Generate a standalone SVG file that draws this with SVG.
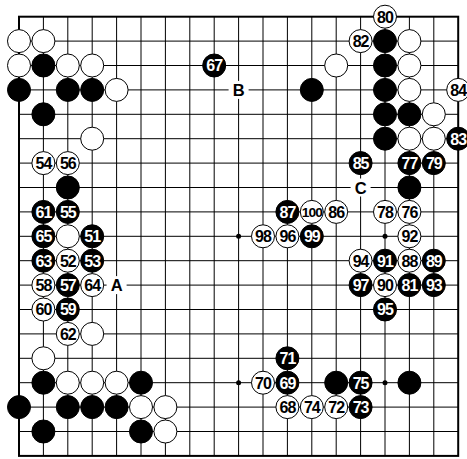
<svg xmlns="http://www.w3.org/2000/svg" width="467" height="459" viewBox="0 0 467 459">
<style>
.grid{stroke:#000;stroke-width:1;fill:none}
.border{stroke:#000;stroke-width:2;fill:none}
.b{fill:#000;stroke:#000;stroke-width:1}
.w{fill:#fff;stroke:#000;stroke-width:1}
.n{font-family:"Liberation Sans",Arial,sans-serif;font-weight:bold;font-size:16px;text-anchor:middle;letter-spacing:-1px}
.nb{fill:#fff}
.nw{fill:#000}
.s{font-size:13.5px;letter-spacing:-1px}
.lbl{font-family:"Liberation Sans",Arial,sans-serif;font-weight:bold;font-size:16.5px;text-anchor:middle;fill:#000}
</style>
<defs>
<circle id="B" class="b" r="11.5"/>
<circle id="W" class="w" r="11.5"/>
</defs>
<rect width="467" height="459" fill="#fff"/>
<g id="connectors">
<path class="grid" d="M43.4 16.7V455.9M67.8 16.7V455.9M92.2 16.7V455.9M116.6 16.7V455.9M141 16.7V455.9M165.4 16.7V455.9M189.8 16.7V455.9M214.2 16.7V455.9M238.6 16.7V455.9M263 16.7V455.9M287.4 16.7V455.9M311.8 16.7V455.9M336.2 16.7V455.9M360.6 16.7V455.9M385 16.7V455.9M409.4 16.7V455.9M433.8 16.7V455.9M19 41.1H458.2M19 65.5H458.2M19 89.9H458.2M19 114.3H458.2M19 138.7H458.2M19 163.1H458.2M19 187.5H458.2M19 211.9H458.2M19 236.3H458.2M19 260.7H458.2M19 285.1H458.2M19 309.5H458.2M19 333.9H458.2M19 358.3H458.2M19 382.7H458.2M19 407.1H458.2M19 431.5H458.2"/>
<rect class="border" x="19" y="16.7" width="439.2" height="439.2"/>
<circle cx="238.6" cy="236.3" r="2.5"/>
<circle cx="385" cy="236.3" r="2.5"/>
<circle cx="238.6" cy="382.7" r="2.5"/>
<circle cx="385" cy="382.7" r="2.5"/>
</g>
<g id="stones-plain">
<use href="#W" x="19" y="41.1"/><use href="#W" x="43.4" y="41.1"/><use href="#W" x="19" y="65.5"/><use href="#W" x="67.8" y="65.5"/><use href="#W" x="92.2" y="65.5"/><use href="#W" x="116.6" y="89.9"/><use href="#W" x="92.2" y="138.7"/><use href="#W" x="67.8" y="236.3"/><use href="#W" x="92.2" y="333.9"/><use href="#W" x="43.4" y="358.3"/><use href="#W" x="67.8" y="382.7"/><use href="#W" x="92.2" y="382.7"/><use href="#W" x="116.6" y="382.7"/><use href="#W" x="141" y="407.1"/><use href="#W" x="165.4" y="407.1"/><use href="#W" x="165.4" y="431.5"/><use href="#W" x="336.2" y="65.5"/><use href="#W" x="409.4" y="41.1"/><use href="#W" x="409.4" y="65.5"/><use href="#W" x="409.4" y="89.9"/><use href="#W" x="433.8" y="114.3"/><use href="#W" x="409.4" y="138.7"/><use href="#W" x="433.8" y="138.7"/>
<use href="#B" x="43.4" y="65.5"/><use href="#B" x="19" y="89.9"/><use href="#B" x="67.8" y="89.9"/><use href="#B" x="92.2" y="89.9"/><use href="#B" x="43.4" y="114.3"/><use href="#B" x="67.8" y="187.5"/><use href="#B" x="43.4" y="382.7"/><use href="#B" x="141" y="382.7"/><use href="#B" x="19" y="407.1"/><use href="#B" x="67.8" y="407.1"/><use href="#B" x="92.2" y="407.1"/><use href="#B" x="116.6" y="407.1"/><use href="#B" x="43.4" y="431.5"/><use href="#B" x="141" y="431.5"/><use href="#B" x="311.8" y="89.9"/><use href="#B" x="385" y="41.1"/><use href="#B" x="385" y="65.5"/><use href="#B" x="385" y="89.9"/><use href="#B" x="385" y="114.3"/><use href="#B" x="409.4" y="114.3"/><use href="#B" x="385" y="138.7"/><use href="#B" x="409.4" y="187.5"/><use href="#B" x="336.2" y="382.7"/><use href="#B" x="409.4" y="382.7"/>
</g>
<g id="m51" transform="translate(92.2,236.3)"><use href="#B"/><text class="n nb" y="5.8">51</text></g>
<g id="m52" transform="translate(67.8,260.7)"><use href="#W"/><text class="n nw" y="5.8">52</text></g>
<g id="m53" transform="translate(92.2,260.7)"><use href="#B"/><text class="n nb" y="5.8">53</text></g>
<g id="m54" transform="translate(43.4,163.1)"><use href="#W"/><text class="n nw" y="5.8">54</text></g>
<g id="m55" transform="translate(67.8,211.9)"><use href="#B"/><text class="n nb" y="5.8">55</text></g>
<g id="m56" transform="translate(67.8,163.1)"><use href="#W"/><text class="n nw" y="5.8">56</text></g>
<g id="m57" transform="translate(67.8,285.1)"><use href="#B"/><text class="n nb" y="5.8">57</text></g>
<g id="m58" transform="translate(43.4,285.1)"><use href="#W"/><text class="n nw" y="5.8">58</text></g>
<g id="m59" transform="translate(67.8,309.5)"><use href="#B"/><text class="n nb" y="5.8">59</text></g>
<g id="m60" transform="translate(43.4,309.5)"><use href="#W"/><text class="n nw" y="5.8">60</text></g>
<g id="m61" transform="translate(43.4,211.9)"><use href="#B"/><text class="n nb" y="5.8">61</text></g>
<g id="m62" transform="translate(67.8,333.9)"><use href="#W"/><text class="n nw" y="5.8">62</text></g>
<g id="m63" transform="translate(43.4,260.7)"><use href="#B"/><text class="n nb" y="5.8">63</text></g>
<g id="m64" transform="translate(92.2,285.1)"><use href="#W"/><text class="n nw" y="5.8">64</text></g>
<g id="m65" transform="translate(43.4,236.3)"><use href="#B"/><text class="n nb" y="5.8">65</text></g>
<g id="m67" transform="translate(214.2,65.5)"><use href="#B"/><text class="n nb" y="5.8">67</text></g>
<g id="m68" transform="translate(287.4,407.1)"><use href="#W"/><text class="n nw" y="5.8">68</text></g>
<g id="m69" transform="translate(287.4,382.7)"><use href="#B"/><text class="n nb" y="5.8">69</text></g>
<g id="m70" transform="translate(263,382.7)"><use href="#W"/><text class="n nw" y="5.8">70</text></g>
<g id="m71" transform="translate(287.4,358.3)"><use href="#B"/><text class="n nb" y="5.8">71</text></g>
<g id="m72" transform="translate(336.2,407.1)"><use href="#W"/><text class="n nw" y="5.8">72</text></g>
<g id="m73" transform="translate(360.6,407.1)"><use href="#B"/><text class="n nb" y="5.8">73</text></g>
<g id="m74" transform="translate(311.8,407.1)"><use href="#W"/><text class="n nw" y="5.8">74</text></g>
<g id="m75" transform="translate(360.6,382.7)"><use href="#B"/><text class="n nb" y="5.8">75</text></g>
<g id="m76" transform="translate(409.4,211.9)"><use href="#W"/><text class="n nw" y="5.8">76</text></g>
<g id="m77" transform="translate(409.4,163.1)"><use href="#B"/><text class="n nb" y="5.8">77</text></g>
<g id="m78" transform="translate(385,211.9)"><use href="#W"/><text class="n nw" y="5.8">78</text></g>
<g id="m79" transform="translate(433.8,163.1)"><use href="#B"/><text class="n nb" y="5.8">79</text></g>
<g id="m80" transform="translate(385,16.7)"><use href="#W"/><text class="n nw" y="5.8">80</text></g>
<g id="m81" transform="translate(409.4,285.1)"><use href="#B"/><text class="n nb" y="5.8">81</text></g>
<g id="m82" transform="translate(360.6,41.1)"><use href="#W"/><text class="n nw" y="5.8">82</text></g>
<g id="m83" transform="translate(458.2,138.7)"><use href="#B"/><text class="n nb" y="5.8">83</text></g>
<g id="m84" transform="translate(458.2,89.9)"><use href="#W"/><text class="n nw" y="5.8">84</text></g>
<g id="m85" transform="translate(360.6,163.1)"><use href="#B"/><text class="n nb" y="5.8">85</text></g>
<g id="m86" transform="translate(336.2,211.9)"><use href="#W"/><text class="n nw" y="5.8">86</text></g>
<g id="m87" transform="translate(287.4,211.9)"><use href="#B"/><text class="n nb" y="5.8">87</text></g>
<g id="m88" transform="translate(409.4,260.7)"><use href="#W"/><text class="n nw" y="5.8">88</text></g>
<g id="m89" transform="translate(433.8,260.7)"><use href="#B"/><text class="n nb" y="5.8">89</text></g>
<g id="m90" transform="translate(385,285.1)"><use href="#W"/><text class="n nw" y="5.8">90</text></g>
<g id="m91" transform="translate(385,260.7)"><use href="#B"/><text class="n nb" y="5.8">91</text></g>
<g id="m92" transform="translate(409.4,236.3)"><use href="#W"/><text class="n nw" y="5.8">92</text></g>
<g id="m93" transform="translate(433.8,285.1)"><use href="#B"/><text class="n nb" y="5.8">93</text></g>
<g id="m94" transform="translate(360.6,260.7)"><use href="#W"/><text class="n nw" y="5.8">94</text></g>
<g id="m95" transform="translate(385,309.5)"><use href="#B"/><text class="n nb" y="5.8">95</text></g>
<g id="m96" transform="translate(287.4,236.3)"><use href="#W"/><text class="n nw" y="5.8">96</text></g>
<g id="m97" transform="translate(360.6,285.1)"><use href="#B"/><text class="n nb" y="5.8">97</text></g>
<g id="m98" transform="translate(263,236.3)"><use href="#W"/><text class="n nw" y="5.8">98</text></g>
<g id="m99" transform="translate(311.8,236.3)"><use href="#B"/><text class="n nb" y="5.8">99</text></g>
<g id="m100" transform="translate(311.8,211.9)"><use href="#W"/><text class="n nw s" y="5" textLength="20" lengthAdjust="spacingAndGlyphs">100</text></g>
<g id="lblA" transform="translate(116.6,285.1)"><rect x="-10" y="-9" width="20" height="18" fill="#fff"/><text class="lbl" y="6">A</text></g>
<g id="lblB" transform="translate(238.6,89.9)"><rect x="-10" y="-9" width="20" height="18" fill="#fff"/><text class="lbl" y="6">B</text></g>
<g id="lblC" transform="translate(360.6,187.5)"><rect x="-10" y="-9" width="20" height="18" fill="#fff"/><text class="lbl" y="6">C</text></g>
</svg>
